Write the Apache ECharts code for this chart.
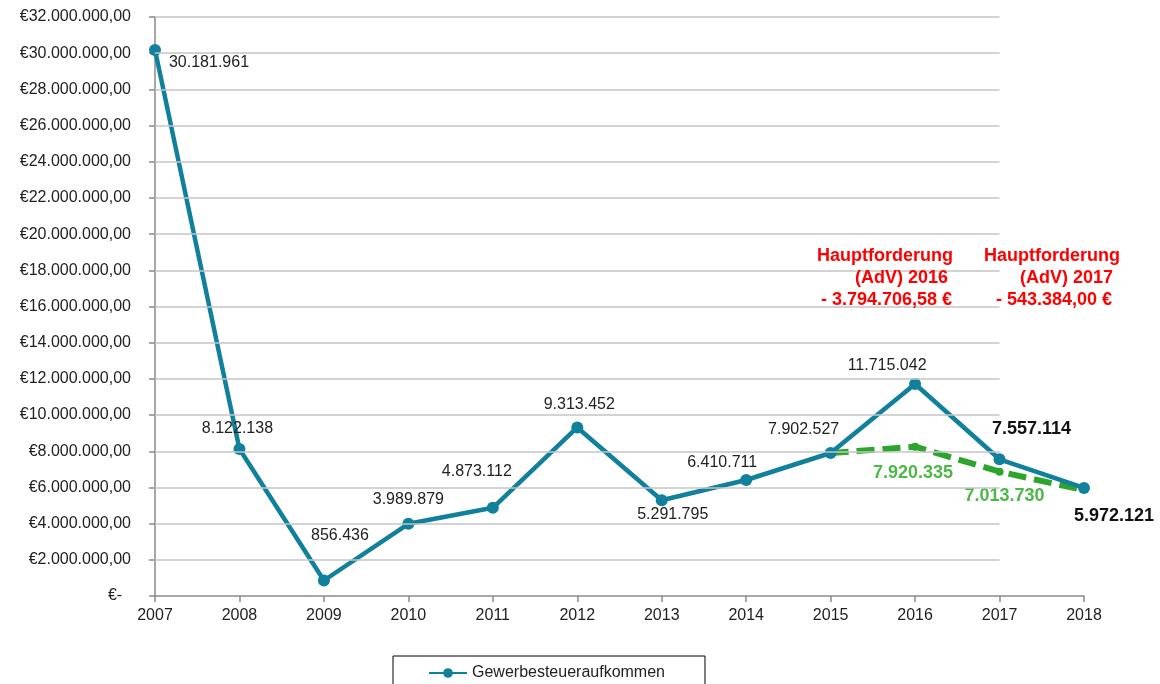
<!DOCTYPE html>
<html>
<head>
<meta charset="utf-8">
<script src="https://cdn.jsdelivr.net/npm/echarts@6/dist/echarts.min.js"></script>
<style>
  html, body { margin: 0; padding: 0; background: #fff; }
  #chart { width: 1160px; height: 684px; }
</style>
</head>
<body>
<div id="chart"></div>
<script>
// data
var years = ['2007', '2008', '2009', '2010', '2011', '2012', '2013', '2014', '2015', '2016', '2017', '2018']
var steuer = [30181961, 8122138, 856436, 3989879, 4873112, 9313452, 5291795, 6410711, 7902527, 11715042, 7557114, 5972121]
// dashed line after subtracting Hauptforderung (AdV), positions as drawn
var bereinigt = [null, null, null, null, null, null, null, null, 7902527, 8250000, 6870000, 5850000]
var bereinigtLabels = ['', '', '', '', '', '', '', '', '', '7.920.335', '7.013.730', '']
var notes2016 = ['Hauptforderung', '(AdV) 2016', '- 3.794.706,58 €']
var notes2017 = ['Hauptforderung', '(AdV) 2017', '- 543.384,00 €']

// label placement (label centre relative to point)
var labelOffsets = [[54, 13], [-2, -20], [16, -45], [0, -24], [-16, -36], [2, -23], [11, 14], [-24, -17], [-27, -23], [-28, -18], [32, -30], [30, 28]]
var boldLabels = [false, false, false, false, false, false, false, false, false, false, true, true]
var greenOffsets = [[0, 0], [0, 0], [0, 0], [0, 0], [0, 0], [0, 0], [0, 0], [0, 0], [0, 0], [-2, 26], [5, 24], [0, 0]]

var FONT = '"Liberation Sans", Arial, sans-serif'
var BLUE = '#11809c'

function fmt (v) {
  return Math.round(v).toString().replace(/\B(?=(\d{3})+(?!\d))/g, '.')
}

var chart = echarts.init(document.getElementById('chart'))

var blueData = steuer.map(function (v, i) {
  return {
    value: v,
    label: {
      show: true,
      position: 'inside',
      offset: labelOffsets[i],
      fontSize: boldLabels[i] ? 18 : 16,
      fontWeight: boldLabels[i] ? 'bold' : 'normal',
      color: boldLabels[i] ? '#111' : '#222'
    }
  }
})

var greenData = bereinigt.map(function (v, i) {
  if (v === null) return { value: '-' }
  return {
    value: v,
    symbolSize: bereinigtLabels[i] ? 8 : 0,
    label: {
      show: bereinigtLabels[i] !== '',
      position: 'inside',
      offset: greenOffsets[i],
      formatter: bereinigtLabels[i]
    }
  }
})

// horizontal grid lines only reach to 2017
var gridLines = []
for (var g = 2000000; g <= 32000000; g += 2000000) {
  gridLines.push([{ coord: ['2007', g] }, { coord: ['2017', g] }])
}

var graphics = []
var noteY = [256, 278, 300]
var right2016 = [953, 948, 952]
var right2017 = [1120, 1113, 1112]
notes2016.forEach(function (t, i) {
  graphics.push({ type: 'text', x: right2016[i], y: noteY[i], z: 10,
    style: { text: t, align: 'right', verticalAlign: 'middle', fill: '#ff0000', font: 'bold 18px ' + FONT } })
})
notes2017.forEach(function (t, i) {
  graphics.push({ type: 'text', x: right2017[i], y: noteY[i], z: 10,
    style: { text: t, align: 'right', verticalAlign: 'middle', fill: '#ff0000', font: 'bold 18px ' + FONT } })
})

var option = {
  animation: false,
  backgroundColor: '#fff',
  textStyle: { fontFamily: FONT },
  grid: { left: 155, right: 76, top: 17, bottom: 88, containLabel: false },
  legend: {
    data: ['Gewerbesteueraufkommen'],
    left: 393,
    top: 656,
    orient: 'horizontal',
    borderColor: '#000',
    borderWidth: 1,
    borderRadius: 0,
    padding: [9, 40, 14, 35],
    itemWidth: 38,
    itemHeight: 12,
    itemGap: 5,
    textStyle: { fontSize: 16, color: '#222', fontFamily: FONT }
  },
  xAxis: {
    type: 'category',
    data: years,
    boundaryGap: false,
    axisLine: { lineStyle: { color: '#8a8a8a', width: 1.5 } },
    axisTick: { show: true, length: 6, inside: false, lineStyle: { color: '#8a8a8a', width: 1.5 } },
    axisLabel: { fontSize: 16, color: '#222', margin: 12 },
    splitLine: { show: false }
  },
  yAxis: {
    type: 'value',
    min: 0,
    max: 32000000,
    interval: 2000000,
    axisLine: { show: true, lineStyle: { color: '#8a8a8a', width: 1.5 } },
    axisTick: { show: true, length: 6, lineStyle: { color: '#8a8a8a', width: 1.5 } },
    axisLabel: {
      fontSize: 16,
      color: '#222',
      margin: 24,
      formatter: function (v) {
        return v === 0 ? '€-  ' : '€' + fmt(v) + ',00'
      }
    },
    splitLine: { show: false }
  },
  graphic: graphics,
  series: [
    {
      name: 'gridlines',
      type: 'line',
      data: [],
      silent: true,
      z: 1,
      markLine: {
        silent: true,
        symbol: ['none', 'none'],
        label: { show: false },
        lineStyle: { color: '#c4c4c4', width: 1.5, type: 'solid' },
        data: gridLines
      }
    },
    {
      name: 'AdV',
      type: 'line',
      z: 2,
      data: greenData,
      symbol: 'circle',
      symbolSize: 8,
      itemStyle: { color: '#2ca52c' },
      lineStyle: { color: '#2ca52c', width: 6, type: [18, 8] },
      label: { show: false, color: '#4cb848', fontSize: 18, fontWeight: 'bold' }
    },
    {
      name: 'Gewerbesteueraufkommen',
      type: 'line',
      z: 3,
      data: blueData,
      symbol: 'circle',
      symbolSize: 12,
      itemStyle: { color: BLUE },
      lineStyle: { color: BLUE, width: 4.5 },
      label: { show: true, formatter: function (p) { return fmt(p.value) } }
    }
  ]
}

chart.setOption(option, true)
</script>
</body>
</html>
